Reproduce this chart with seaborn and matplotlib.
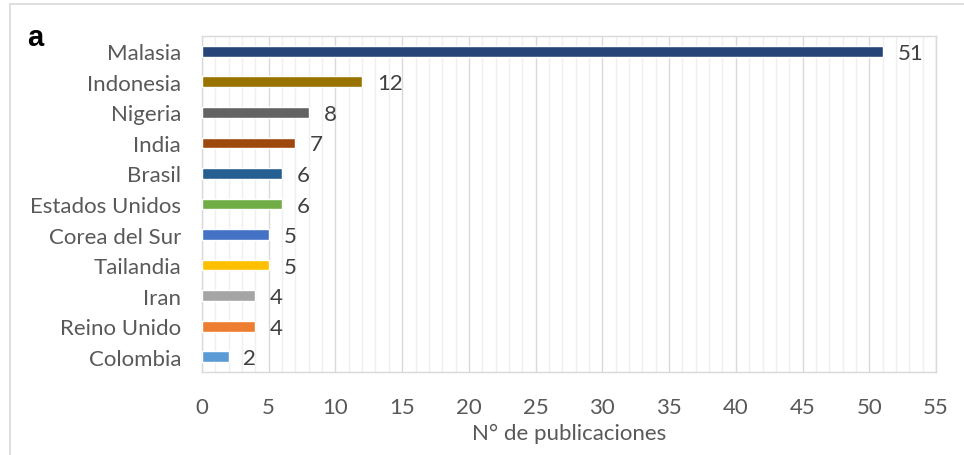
import matplotlib
matplotlib.use("Agg")
import matplotlib.pyplot as plt
import seaborn as sns
import pandas as pd
from matplotlib.lines import Line2D
from matplotlib.ticker import MultipleLocator

countries = ["Malasia", "Indonesia", "Nigeria", "India", "Brasil", "Estados Unidos",
             "Corea del Sur", "Tailandia", "Iran", "Reino Unido", "Colombia"]
values = [51, 12, 8, 7, 6, 6, 5, 5, 4, 4, 2]
colors = ["#264478", "#997300", "#636363", "#9E480E", "#255E91", "#70AD47",
          "#4472C4", "#FFC000", "#A5A5A5", "#ED7D31", "#5B9BD5"]
xticks = list(range(0, 56, 5))
xlabel = "N° de publicaciones"
panel = "a"

sns.set_theme(style="white")
plt.rcParams['font.family'] = ['Lato', 'DejaVu Sans']

df = pd.DataFrame({"country": countries, "value": values})

fig = plt.figure(figsize=(9.64, 4.56), dpi=100)
ax = fig.add_axes([202/964, 1-373/456, (936-202)/964, (373-37)/456])

sns.barplot(data=df, y="country", x="value", hue="country", palette=colors,
            order=countries, hue_order=countries, legend=False, width=0.35,
            ax=ax, zorder=3, saturation=1)

ax.set_xlim(0, 55)
ax.set_xticks(xticks)
ax.xaxis.set_minor_locator(MultipleLocator(1))
ax.grid(True, axis="x", which="minor", color="#efefef", lw=1, zorder=0)
ax.grid(True, axis="x", which="major", color="#d9d9d9", lw=1, zorder=1)
ax.set_axisbelow(True)
for s in ax.spines.values():
    s.set_color("#d9d9d9")
    s.set_linewidth(1)
ax.tick_params(axis="both", which="both", length=0, colors="#595959", labelsize=16)
ax.tick_params(axis="x", pad=18)
ax.tick_params(axis="y", pad=15)
ax.set_ylabel("")
ax.set_xlabel(xlabel, fontsize=16, color="#595959", labelpad=4)

for i, v in enumerate(values):
    ax.text(v + 1.1, i + 0.05, str(v), va="center", ha="left", fontsize=16, color="#404040")

fig.text(27/964, 1-38/456, panel, fontsize=21, fontweight="bold", color="black",
         ha="left", va="center", family=["Liberation Sans", "DejaVu Sans"])

fig.add_artist(Line2D([9.5/964, 9.5/964], [0, 1-5/456], transform=fig.transFigure,
                      color="#d9d9d9", lw=1.2))
fig.add_artist(Line2D([9.5/964, 1], [1-5/456, 1-5/456], transform=fig.transFigure,
                      color="#d9d9d9", lw=1.2))

fig.savefig("out.png", dpi=100)
